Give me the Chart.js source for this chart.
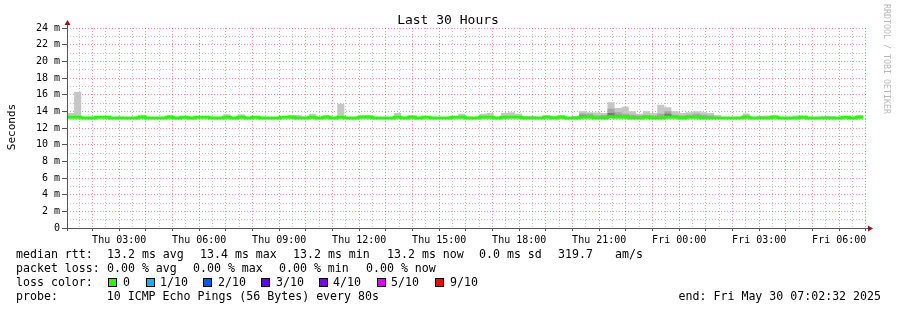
<!DOCTYPE html>
<html><head><meta charset="utf-8">
<script src="https://cdn.jsdelivr.net/npm/chart.js@4/dist/chart.umd.min.js"></script>
<style>html,body{margin:0;padding:0;background:#fff;}#wrap{width:897px;height:310px;}</style>
</head><body><div id="wrap"><canvas id="c" width="897" height="310"></canvas></div>
<script>
// ---- data (hours since Thu 00:00) ----
const startHour = 1 + 2/60 + 32/3600;   // Thu 01:02:32
const endHour = startHour + 30;         // Fri 07:02:32
const blockMinutes = 16;

// outer smoke top per block (ms)
const smokeTop = [
 13.8,16.35,13.3,13.35,13.45,13.3,13.25,13.35,13.3,13.3,
 13.55,13.3,13.3,13.3,13.55,13.3,13.45,13.3,13.45,13.45,
 13.3,13.3,13.65,13.3,13.65,13.3,13.45,13.3,13.3,13.3,
 13.35,13.55,13.55,13.35,13.7,13.3,13.55,13.3,14.9,13.3,
 13.3,13.55,13.55,13.3,13.3,13.3,13.8,13.3,13.55,13.3,
 13.45,13.3,13.3,13.3,13.45,13.7,13.35,13.3,13.7,13.8,
 13.3,13.8,13.9,13.7,13.45,13.45,13.3,13.55,13.45,13.55,
 13.3,13.45,14.0,13.9,13.85,13.8,15.1,14.4,14.55,14.0,
 13.7,14.0,13.8,14.8,14.5,14.0,13.8,13.9,14.0,13.9,
 13.8,13.55,13.3,13.3,13.3,13.75,13.3,13.45,13.5,13.55,
 13.3,13.3,13.5,13.5,13.3,13.3,13.4,13.4,13.3,13.4,
 13.3,13.55
];
// middle smoke layer (null = none)
const smokeMid = [
 null,null,null,null,null,null,null,null,null,null,
 null,null,null,null,null,null,null,null,null,null,
 null,null,null,null,null,null,null,null,null,null,
 null,null,null,null,null,null,null,null,null,null,
 null,null,null,null,null,null,null,null,null,null,
 null,null,null,null,null,null,null,null,null,null,
 null,null,null,null,null,null,null,null,null,null,
 null,null,13.75,13.7,13.5,13.55,14.3,13.9,13.7,13.6,
 13.5,13.6,13.5,13.7,14.0,13.6,13.5,13.6,13.7,13.6,
 13.5,null,null,null,null,13.5,null,null,null,null,
 null,null,null,null,null,null,null,null,null,null,
 null,null
];
// inner smoke layer (null = none)
const smokeInner = [
 null,null,null,null,null,null,null,null,null,null,
 null,null,null,null,null,null,null,null,null,null,
 null,null,null,null,null,null,null,null,null,null,
 null,null,null,null,null,null,null,null,null,null,
 null,null,null,null,null,null,null,null,null,null,
 null,null,null,null,null,null,null,null,null,null,
 null,null,null,null,null,null,null,null,null,null,
 null,null,13.5,null,null,null,13.8,13.5,null,null,
 null,null,null,null,13.7,13.4,null,null,13.45,null,
 null,null,null,null,null,null,null,null,null,null,
 null,null,null,null,null,null,null,null,null,null,
 null,null
];
// median rtt per block (ms)
const medianRtt = [
 13.3,13.3,13.2,13.2,13.3,13.3,13.2,13.2,13.2,13.2,
 13.3,13.2,13.2,13.2,13.3,13.2,13.3,13.2,13.3,13.3,
 13.2,13.2,13.3,13.2,13.3,13.2,13.3,13.2,13.2,13.2,
 13.3,13.3,13.2,13.2,13.3,13.2,13.3,13.2,13.3,13.2,
 13.2,13.3,13.3,13.2,13.2,13.2,13.3,13.2,13.3,13.2,
 13.3,13.2,13.2,13.2,13.3,13.3,13.2,13.2,13.3,13.3,
 13.2,13.3,13.3,13.3,13.2,13.2,13.2,13.3,13.2,13.3,
 13.2,13.2,13.3,13.3,13.2,13.2,13.35,13.3,13.3,13.2,
 13.2,13.3,13.2,13.2,13.3,13.3,13.2,13.3,13.3,13.2,
 13.2,13.2,13.2,13.2,13.2,13.3,13.2,13.2,13.2,13.3,
 13.2,13.2,13.2,13.3,13.2,13.2,13.2,13.2,13.2,13.3,
 13.2,13.3
];

const xGridHours = [];   // half-hour grid positions
for (let h = 1.5; h <= 31; h += 0.5) xGridHours.push(h);
const xTickHours = [3,6,9,12,15,18,21,24,27,30];
const xTickLabels = ['Thu 03:00','Thu 06:00','Thu 09:00','Thu 12:00','Thu 15:00','Thu 18:00','Thu 21:00','Fri 00:00','Fri 03:00','Fri 06:00'];
const yTickValues = [0,2,4,6,8,10,12,14,16,18,20,22,24];
const yTickLabels = ['0','2 m','4 m','6 m','8 m','10 m','12 m','14 m','16 m','18 m','20 m','22 m','24 m'];

const titleText = 'Last 30 Hours';
const yTitle = 'Seconds';
const rttLabels = ['median rtt:','13.2 ms avg','13.4 ms max','13.2 ms min','13.2 ms now','0.0 ms sd','319.7','am/s'];
const lossStatLabels = ['packet loss:','0.00 % avg','0.00 % max','0.00 % min','0.00 % now'];
const lossTitle = 'loss color:';
const lossLabels = ['0','1/10','2/10','3/10','4/10','5/10','9/10'];
const lossColors = ['#26ff00','#00b8ff','#0059ff','#5e00ff','#7e00ff','#dd00ff','#ff0000'];
const probeLine = 'probe:       10 ICMP Echo Pings (56 Bytes) every 80s';
const endLine = 'end: Fri May 30 07:02:32 2025';
const watermark = 'RRDTOOL / TOBI OETIKER';

// ---- build series ----
function blockX(i){ return startHour + i*blockMinutes/60; }
function series(arr, fallback){
  const pts = arr.map((v,i)=>({x:blockX(i), y:(v===null? fallback[i] : v)}));
  const n = arr.length;
  pts.push({x:blockX(n), y:pts[n-1].y});
  return pts;
}
const medPts = series(medianRtt, medianRtt);
const topPts = series(smokeTop, medianRtt);
const midPts = series(smokeMid, medianRtt);
const innPts = series(smokeInner, medianRtt);

const MONO = '"DejaVu Sans Mono", monospace';
const RED_GRID = 'rgba(255,0,0,0.45)';
const GREY_GRID = 'rgba(130,130,130,0.5)';
const isWhole = (v)=> Math.abs(v - Math.round(v)) < 1e-6;

const decor = {
  id:'decor',
  afterDraw(chart){
    const ctx = chart.ctx, a = chart.chartArea;
    ctx.save();
    // axes
    ctx.strokeStyle = '#555'; ctx.lineWidth = 1;
    ctx.beginPath();
    ctx.moveTo(a.left+0.5, a.bottom+3); ctx.lineTo(a.left+0.5, a.top-4);
    ctx.moveTo(a.left-5, a.bottom+0.5); ctx.lineTo(a.right+2, a.bottom+0.5);
    ctx.stroke();
    ctx.fillStyle = '#8b1a1a';
    ctx.beginPath();
    ctx.moveTo(a.left+0.5-3, a.top-3); ctx.lineTo(a.left+0.5+3, a.top-3); ctx.lineTo(a.left+0.5, a.top-8); ctx.closePath(); ctx.fill();
    ctx.beginPath();
    ctx.moveTo(a.right+1, a.bottom+0.5-3); ctx.lineTo(a.right+1, a.bottom+0.5+3); ctx.lineTo(a.right+6, a.bottom+0.5); ctx.closePath(); ctx.fill();

    // title
    ctx.fillStyle = '#000';
    ctx.font = '13px ' + MONO;
    ctx.textAlign = 'center'; ctx.textBaseline = 'alphabetic';
    ctx.fillText(titleText, 448, 24);

    // y title
    ctx.save();
    ctx.translate(15, 127);
    ctx.rotate(-Math.PI/2);
    ctx.font = '11px ' + MONO;
    ctx.textAlign = 'center';
    ctx.fillText(yTitle, 0, 0);
    ctx.restore();

    // watermark
    ctx.save();
    ctx.translate(884, 4);
    ctx.rotate(Math.PI/2);
    ctx.font = '8.3px ' + MONO;
    ctx.fillStyle = '#b8b8b8';
    ctx.textAlign = 'left';
    ctx.fillText(watermark, 0, 0);
    ctx.restore();

    // legend lines
    ctx.font = '11.6px ' + MONO;
    ctx.fillStyle = '#000';
    ctx.textAlign = 'left';
    const rttX = [16,107,200,293,387,479,558,615];
    rttLabels.forEach((t,i)=> ctx.fillText(t, rttX[i], 258));
    const lossX = [16,107,193,279,366];
    lossStatLabels.forEach((t,i)=> ctx.fillText(t, lossX[i], 272));
    ctx.fillText(lossTitle, 16, 286);
    ctx.fillText(probeLine, 16, 300);
    ctx.textAlign = 'right';
    ctx.fillText(endLine, 881, 300);
    ctx.textAlign = 'left';
    const boxX = [108,146,203,261,319,377,435];
    const txtX = [123,160,218,276,333,391,450];
    lossLabels.forEach((lab,i)=>{
      ctx.fillStyle = lossColors[i];
      ctx.fillRect(boxX[i], 278, 9, 9);
      ctx.strokeStyle = '#000';
      ctx.strokeRect(boxX[i]+0.5, 278.5, 8, 8);
      ctx.fillStyle = '#000';
      ctx.fillText(lab, txtX[i], 286);
    });
    ctx.restore();
  }
};

const common = {stepped:true, pointRadius:0, borderWidth:0, tension:0};
new Chart(document.getElementById('c'), {
  type:'line',
  data:{datasets:[
    {label:'median', data:medPts, stepped:true, pointRadius:0, borderColor:'#22ff00', borderWidth:3, fill:false},
    Object.assign({label:'inner', data:innPts, backgroundColor:'#7a7a7a', borderColor:'rgba(0,0,0,0)', fill:0}, common),
    Object.assign({label:'mid', data:midPts, backgroundColor:'#a6a6a6', borderColor:'rgba(0,0,0,0)', fill:0}, common),
    Object.assign({label:'smoke', data:topPts, backgroundColor:'#c6c6c6', borderColor:'rgba(0,0,0,0)', fill:0}, common)
  ]},
  options:{
    responsive:false, animation:false, devicePixelRatio:1,
    layout:{padding:{left:0, top:28, right:30, bottom:62}},
    plugins:{legend:{display:false}, title:{display:false}, tooltip:{enabled:false}},
    scales:{
      x:{
        type:'linear', min:startHour, max:endHour,
        afterBuildTicks(s){ s.ticks = xGridHours.map(v=>({value:v})); },
        afterFit(s){ s.height = 20; },
        border:{display:false, dash:[1,2]},
        grid:{
          color:(c)=> isWhole(c.tick.value) ? RED_GRID : GREY_GRID,
          lineWidth:1, drawTicks:true, tickLength:3,
          tickColor:(c)=> isWhole(c.tick.value) ? '#555' : 'rgba(0,0,0,0)'
        },
        ticks:{
          autoSkip:false, maxRotation:0, minRotation:0,
          padding:3, color:'#000', font:{family:MONO, size:10},
          callback:(v)=>{ const k = xTickHours.findIndex(h=>Math.abs(h-v)<1e-6); return k>=0 ? xTickLabels[k] : ''; }
        }
      },
      y:{
        type:'linear', min:0, max:24,
        afterFit(s){ s.width = 67; },
        border:{display:false, dash:[1,2]},
        grid:{
          color:(c)=> c.tick.value % 2 === 0 ? RED_GRID : GREY_GRID,
          lineWidth:1, drawTicks:true, tickLength:5,
          tickColor:(c)=> c.tick.value % 2 === 0 ? '#555' : 'rgba(0,0,0,0)'
        },
        ticks:{
          stepSize:1, autoSkip:false, padding:2, color:'#000', font:{family:MONO, size:10},
          callback:(v)=>{ const k = yTickValues.indexOf(v); return k>=0 ? yTickLabels[k] : ''; }
        }
      }
    }
  },
  plugins:[decor]
});
</script>
</body></html>
